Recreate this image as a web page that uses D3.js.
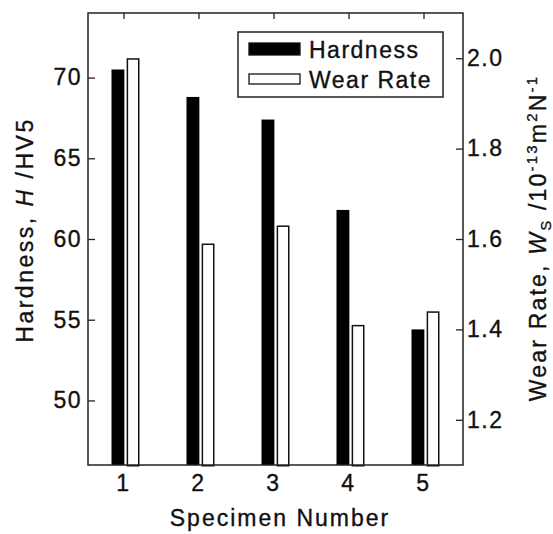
<!DOCTYPE html>
<html>
<head>
    <meta charset="utf-8">
    <title>Hardness and wear rate</title>
    <script type="text/javascript" src="https://cdn.jsdelivr.net/npm/d3@7/dist/d3.min.js"></script>
    <style type="text/css">
        html, body { margin: 0; background: #fff; }
        svg { display: block; }
        text { font-family: "Liberation Sans", Arial, sans-serif; fill: #111; stroke: #111; stroke-width: 0.35px; }
    </style>
</head>
<body>
<script type="text/javascript">
    // values
    var specimens = ["1", "2", "3", "4", "5"];
    var hardness = [70.5, 68.8, 67.4, 61.8, 54.4];      // HV5
    var wearRate = [2.00, 1.59, 1.63, 1.41, 1.44];      // 10^-13 m2/N
    var hardTicks = [50, 55, 60, 65, 70];
    var wearTicks = [1.2, 1.4, 1.6, 1.8, 2.0];
    var seriesNames = ["Hardness", "Wear Rate"];

    var W = 553, H = 534;
    // note: "top" is a reserved window property, so use prefixed names
    var pLeft = 88, pRight = 463, pTop = 13, pBottom = 465;

    var svg = d3.select("body").append("svg")
        .attr("width", W).attr("height", H);

    var x0 = d3.scaleBand().domain(specimens).range([pLeft, pRight]).padding(0);
    var yH = d3.scaleLinear().domain([46, 74]).range([pBottom, pTop]);
    var yW = d3.scaleLinear().domain([1.1, 2.1]).range([pBottom, pTop]);

    var c = x0.bandwidth() / 2;
    var x1 = d3.scaleBand().domain(seriesNames).range([c - 14, c + 14]).paddingInner(0.15);

    var rows = specimens.map(function (s, i) {
        return {s: s, h: hardness[i], w: wearRate[i]};
    });

    var groups = svg.selectAll("g.grp").data(rows).enter().append("g")
        .attr("class", "grp")
        .attr("transform", function (d) { return "translate(" + x0(d.s) + ",0)"; });

    groups.append("rect")
        .attr("x", x1("Hardness"))
        .attr("width", x1.bandwidth())
        .attr("y", function (d) { return yH(d.h); })
        .attr("height", function (d) { return pBottom - yH(d.h); })
        .attr("fill", "#000");

    groups.append("rect")
        .attr("x", x1("Wear Rate") + 0.75)
        .attr("width", x1.bandwidth() - 1.5)
        .attr("y", function (d) { return yW(d.w) + 0.75; })
        .attr("height", function (d) { return pBottom - yW(d.w); })
        .attr("fill", "#fff")
        .attr("stroke", "#111")
        .attr("stroke-width", 1.5);

    // frame
    svg.append("rect")
        .attr("x", pLeft).attr("y", pTop)
        .attr("width", pRight - pLeft).attr("height", pBottom - pTop)
        .attr("fill", "none").attr("stroke", "#222").attr("stroke-width", 1.5);

    function styleAxis(g) {
        g.select(".domain").remove();
        g.selectAll("line").attr("stroke", "#222").attr("stroke-width", 1.3);
        g.selectAll("text")
            .attr("font-size", 23)
            .attr("letter-spacing", 1.5)
            .style("fill", "#111");
        g.attr("font-family", null).attr("font-size", null);
    }

    svg.append("g").attr("transform", "translate(" + pLeft + ",0)")
        .call(d3.axisLeft(yH).tickValues(hardTicks).tickSize(-7).tickPadding(6).tickFormat(d3.format("d")))
        .call(styleAxis);

    svg.append("g").attr("transform", "translate(" + pRight + ",0)")
        .call(d3.axisRight(yW).tickValues(wearTicks).tickSize(-7).tickPadding(4).tickFormat(d3.format(".1f")))
        .call(styleAxis);

    svg.append("g").attr("transform", "translate(0," + pBottom + ")")
        .call(d3.axisBottom(x0).tickSize(0).tickPadding(10))
        .call(styleAxis)
        .selectAll("text").attr("dx", -2);

    svg.append("g").attr("transform", "translate(0," + pTop + ")")
        .call(d3.axisTop(x0).tickSize(-6).tickFormat(""))
        .call(styleAxis)
        .selectAll("line").attr("transform", "translate(-1.5,0)");

    // axis titles
    svg.append("text")
        .attr("x", 280).attr("y", 526)
        .attr("text-anchor", "middle")
        .attr("font-size", 23).attr("letter-spacing", 2)
        .text("Specimen Number");

    var lt = svg.append("text")
        .attr("transform", "translate(33,230) rotate(-90)")
        .attr("text-anchor", "middle")
        .attr("font-size", 23).attr("letter-spacing", 2.5);
    lt.append("tspan").text("Hardness, ");
    lt.append("tspan").attr("font-style", "italic").text("H");
    lt.append("tspan").text(" /HV5");

    var rt = svg.append("text")
        .attr("transform", "translate(546,238) rotate(-90)")
        .attr("text-anchor", "middle")
        .attr("font-size", 23).attr("letter-spacing", 2.2);
    rt.append("tspan").text("Wear Rate, ");
    rt.append("tspan").attr("font-style", "italic").text("W");
    rt.append("tspan").attr("font-size", 15).attr("dy", 5).text("S");
    rt.append("tspan").attr("dy", -5).text(" /10");
    rt.append("tspan").attr("font-size", 15).attr("dy", -9).text("-13");
    rt.append("tspan").attr("dy", 9).text("m");
    rt.append("tspan").attr("font-size", 15).attr("dy", -9).text("2");
    rt.append("tspan").attr("dy", 9).text("N");
    rt.append("tspan").attr("font-size", 15).attr("dy", -9).text("-1");

    // legend
    var legend = svg.append("g");
    legend.append("rect")
        .attr("x", 238).attr("y", 32).attr("width", 205).attr("height", 65)
        .attr("fill", "#fff").attr("stroke", "#222").attr("stroke-width", 1.5);

    var li = legend.selectAll("g.item").data(seriesNames).enter().append("g")
        .attr("class", "item")
        .attr("transform", function (d, i) { return "translate(249," + (43 + i * 31) + ")"; });
    li.append("rect")
        .attr("width", 51)
        .attr("height", function (d, i) { return i === 0 ? 12 : 10; })
        .attr("fill", function (d, i) { return i === 0 ? "#000" : "#fff"; })
        .attr("stroke", "#111").attr("stroke-width", 1.3);
    li.append("text")
        .attr("x", 60).attr("y", function (d, i) { return i === 0 ? 15 : 14; })
        .attr("font-size", 23).attr("letter-spacing", 1.5)
        .text(function (d) { return d; });
</script>
</body>
</html>
